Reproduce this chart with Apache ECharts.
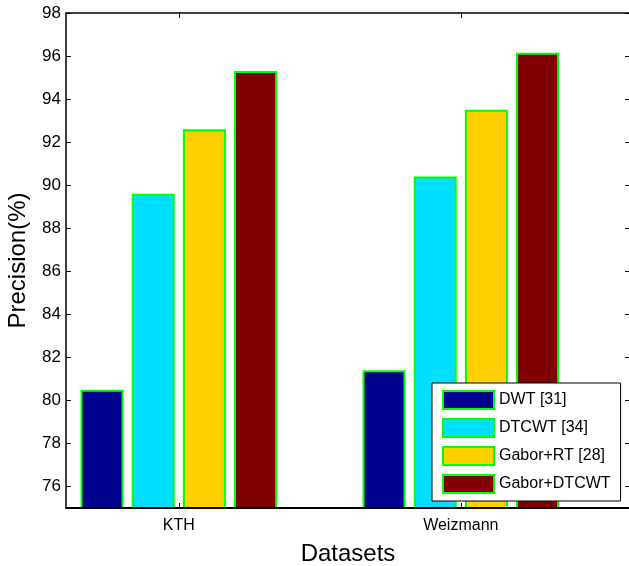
<!DOCTYPE html>
<html>
<head>
<meta charset="utf-8">
<script src="https://cdn.jsdelivr.net/npm/echarts@6/dist/echarts.min.js"></script>
<style>
  html, body { margin: 0; padding: 0; background: #fff; }
  #chart { width: 629px; height: 566px; }
</style>
</head>
<body>
<div id="chart"></div>
<script>
const categories = ['KTH', 'Weizmann'];
const categoryPos = [1, 2];
const methods = ['DWT [31]', 'DTCWT [34]', 'Gabor+RT [28]', 'Gabor+DTCWT'];
const colors = ['#00008f', '#00dfff', '#ffcf00', '#800000'];
const dwt = [80.5, 81.4];
const dtcwt = [89.6, 90.4];
const gaborRt = [92.6, 93.5];
const gaborDtcwt = [95.3, 96.15];
const yTicks = [76, 78, 80, 82, 84, 86, 88, 90, 92, 94, 96, 98];

const seriesValues = [dwt, dtcwt, gaborRt, gaborDtcwt];
const font = 'Liberation Sans, Arial, Helvetica, sans-serif';

const chart = echarts.init(document.getElementById('chart'));

const tickStyle = { show: true, inside: true, length: 5, lineStyle: { color: '#000', width: 1 } };
const lineStyle = { show: true, lineStyle: { color: '#000', width: 1.5 } };

const option = {
  animation: false,
  grid: { left: 66, right: -1, top: 13, bottom: 58, outerBoundsMode: 'none' },
  legend: {
    orient: 'vertical',
    left: 432,
    top: 383,
    width: 191,
    height: 116,
    padding: [7, 10, 7, 10],
    itemWidth: 51,
    itemHeight: 18,
    itemGap: 8,
    backgroundColor: '#fff',
    borderColor: '#000',
    borderWidth: 1,
    icon: 'rect',
    data: methods,
    textStyle: { fontFamily: font, fontSize: 16, color: '#000' }
  },
  xAxis: [{
    type: 'value',
    min: 0.6,
    max: 2.6,
    z: 10,
    name: 'Datasets',
    nameLocation: 'middle',
    nameGap: 34,
    nameTextStyle: { fontFamily: font, fontSize: 24, color: '#000' },
    axisLine: Object.assign({ onZero: false }, lineStyle, { lineStyle: { color: '#000', width: 2 } }),
    axisTick: Object.assign({ customValues: categoryPos }, tickStyle),
    axisLabel: {
      customValues: categoryPos,
      margin: 10,
      fontFamily: font,
      fontSize: 16,
      color: '#000',
      formatter: v => categories[categoryPos.indexOf(v)] || ''
    },
    splitLine: { show: false }
  }, {
    type: 'value',
    position: 'top',
    min: 0.6,
    max: 2.6,
    axisLine: Object.assign({ onZero: false }, lineStyle),
    axisTick: Object.assign({ customValues: categoryPos }, tickStyle),
    axisLabel: { show: false },
    splitLine: { show: false }
  }],
  yAxis: [{
    type: 'value',
    min: 75,
    max: 98,
    name: 'Precision(%)',
    nameLocation: 'middle',
    nameGap: 36,
    nameTextStyle: { fontFamily: font, fontSize: 24, color: '#000' },
    axisLine: Object.assign({ onZero: false }, lineStyle),
    axisTick: Object.assign({ customValues: yTicks }, tickStyle),
    axisLabel: {
      customValues: yTicks,
      margin: 5,
      fontFamily: font,
      fontSize: 17,
      color: '#000'
    },
    splitLine: { show: false }
  }, {
    type: 'value',
    position: 'right',
    min: 75,
    max: 98,
    axisLine: Object.assign({ onZero: false }, lineStyle),
    axisTick: Object.assign({ customValues: yTicks }, tickStyle),
    axisLabel: { show: false },
    splitLine: { show: false }
  }],
  series: methods.map((name, i) => ({
    name: name,
    type: 'bar',
    xAxisIndex: 0,
    yAxisIndex: 0,
    barWidth: 43,
    barGap: '19%',
    clip: true,
    data: categoryPos.map((x, j) => [x, seriesValues[i][j]]),
    itemStyle: {
      color: colors[i],
      borderColor: '#00ff00',
      borderWidth: 2
    }
  }))
};

chart.setOption(option);
</script>
</body>
</html>
